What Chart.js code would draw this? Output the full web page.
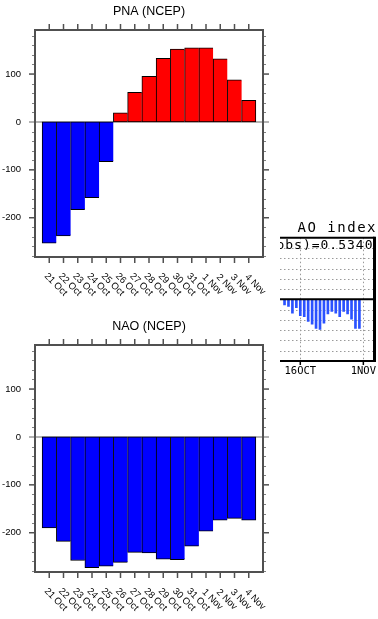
<!DOCTYPE html>
<html>
<head>
<meta charset="utf-8">
<script src="https://cdn.jsdelivr.net/npm/chart.js@4.4.0/dist/chart.umd.min.js"></script>
<style>
  html, body { margin: 0; padding: 0; background: #fff; overflow: hidden; }
  body { width: 378px; height: 619px; position: relative; }
  canvas { display: block; }
  #pna { position: absolute; left: 0; top: 0; }
  #nao { position: absolute; left: 0; top: 315px; }
  #ao { position: absolute; left: 280px; top: 212px; }
</style>
</head>
<body>
<canvas id="pna" width="280" height="312"></canvas>
<canvas id="nao" width="280" height="312"></canvas>
<canvas id="ao" width="98" height="175"></canvas>
<script>
// index values (NCEP), one bar per day
const days = ["21 Oct", "22 Oct", "23 Oct", "24 Oct", "25 Oct", "26 Oct", "27 Oct", "28 Oct",
              "29 Oct", "30 Oct", "31 Oct", "1 Nov", "2 Nov", "3 Nov", "4 Nov"];
const pnaValues = [-253, -238, -183, -158, -83, 19, 62, 95, 133, 152, 155, 155, 132, 88, 45];
const naoValues = [-190, -218, -258, -273, -270, -262, -241, -242, -255, -256, -228, -197, -174, -170, -174];
const yMajorTicks = [-200, -100, 0, 100];
const yMinorStep = 20;

// the cut-off AO panel on the right (day numbers counted from 30 Sep)
const aoDays = [12, 13, 14, 15, 16, 17, 18, 19, 20, 21, 22, 23, 24, 25, 26, 27, 28, 29, 30, 31];
const aoValues = [-0.27, -0.35, -0.67, -0.40, -0.80, -0.84, -1.08, -1.21, -1.41, -1.46,
                  -1.16, -0.71, -0.59, -0.67, -0.84, -0.59, -0.71, -0.97, -1.41, -1.41];
const aoTickDays = [16, 32];
const aoTickLabels = ["16OCT", "1NOV"];
const aoGridStep = 0.5;

const sans = "'Liberation Sans', Arial, sans-serif";
const mono = "'DejaVu Sans Mono', monospace";

function seg(ctx, x1, y1, x2, y2) {
  ctx.beginPath();
  ctx.moveTo(x1, y1);
  ctx.lineTo(x2, y2);
  ctx.stroke();
}

const ncarFrame = {
  id: 'ncarFrame',
  beforeDatasetsDraw(chart) {
    const { ctx, chartArea: a, scales: { y } } = chart;
    const y0 = y.getPixelForValue(0);
    ctx.save();
    ctx.strokeStyle = '#b4b4b4';
    ctx.lineWidth = 2;
    seg(ctx, a.left - 6, y0, a.right + 6, y0);
    ctx.restore();
  },
  afterDraw(chart) {
    const { ctx, chartArea: a, scales: { x, y } } = chart;
    ctx.save();
    // minor y ticks
    ctx.strokeStyle = '#808080';
    ctx.lineWidth = 1;
    for (let v = Math.ceil(y.min / yMinorStep) * yMinorStep; v <= y.max; v += yMinorStep) {
      if (v % 100 === 0) continue;
      const py = Math.round(y.getPixelForValue(v)) + 0.5;
      seg(ctx, a.left - 3, py, a.left, py);
      seg(ctx, a.right, py, a.right + 3, py);
    }
    // major y ticks + labels
    ctx.strokeStyle = '#505050';
    ctx.lineWidth = 1.5;
    ctx.fillStyle = '#000';
    ctx.font = '9.5px ' + sans;
    ctx.textAlign = 'right';
    ctx.textBaseline = 'middle';
    yMajorTicks.forEach(v => {
      const py = y.getPixelForValue(v);
      if (v !== 0) {
        seg(ctx, a.left - 6, py, a.left, py);
        seg(ctx, a.right, py, a.right + 6, py);
      }
      ctx.fillText(String(v), a.left - 14, py);
    });
    // x ticks top and bottom
    days.forEach((d, i) => {
      const px = x.getPixelForValue(i + 1);
      seg(ctx, px, a.top - 6, px, a.top);
      seg(ctx, px, a.bottom, px, a.bottom + 6);
    });
    // frame
    ctx.strokeStyle = '#505050';
    ctx.lineWidth = 2;
    ctx.strokeRect(a.left, a.top, a.right - a.left, a.bottom - a.top);
    // slanted day labels
    ctx.textAlign = 'center';
    days.forEach((d, i) => {
      const px = x.getPixelForValue(i + 1);
      ctx.save();
      ctx.translate(px + 6.5, a.bottom + 27.5);
      ctx.rotate(Math.PI / 4);
      ctx.fillText(d, 0, 0);
      ctx.restore();
    });
    ctx.restore();
  }
};

function makeIndexChart(canvasId, title, values) {
  const last = values.length - 1;
  return new Chart(document.getElementById(canvasId), {
    type: 'bar',
    data: {
      datasets: [{
        data: values.map((v, i) => ({ x: i + 1, y: v })),
        backgroundColor: values.map(v => (v >= 0 ? '#ff0000' : '#0000ff')),
        borderColor: '#000',
        borderWidth: c => ({ left: 1, top: 1, bottom: 1, right: c.dataIndex === last ? 1 : 0 }),
        borderSkipped: false,
        barPercentage: 1,
        categoryPercentage: 1
      }]
    },
    options: {
      responsive: false,
      animation: false,
      events: [],
      layout: { padding: { left: 35, right: 17, top: 0, bottom: 55 } },
      scales: {
        x: { type: 'linear', offset: false, min: 0, max: days.length + 1, display: false },
        y: { min: -282, max: 192, display: false }
      },
      plugins: {
        legend: { display: false },
        tooltip: { enabled: false },
        title: {
          display: true,
          text: title,
          color: '#000',
          font: { family: sans, size: 12.5, weight: 'normal' },
          padding: { top: 4, bottom: 11 }
        }
      }
    },
    plugins: [ncarFrame]
  });
}

makeIndexChart('pna', 'PNA (NCEP)', pnaValues);
makeIndexChart('nao', 'NAO (NCEP)', naoValues);

// AO panel is cropped on its left side, so no left border is drawn
const aoFrame = {
  id: 'aoFrame',
  beforeDatasetsDraw(chart) {
    const { ctx, chartArea: a, scales: { x, y } } = chart;
    ctx.save();
    ctx.strokeStyle = '#9a9a9a';
    ctx.lineWidth = 1;
    ctx.setLineDash([1.5, 2.5]);
    for (let v = y.min + aoGridStep; v < y.max; v += aoGridStep) {
      if (Math.abs(v) < 1e-6) continue;
      const py = Math.round(y.getPixelForValue(v)) + 0.5;
      seg(ctx, a.left, py, a.right, py);
    }
    aoTickDays.forEach(d => {
      const px = Math.round(x.getPixelForValue(d)) + 0.5;
      seg(ctx, px, a.top, px, a.bottom);
    });
    ctx.restore();
  },
  afterDraw(chart) {
    const { ctx, chartArea: a, scales: { x, y } } = chart;
    ctx.save();
    ctx.strokeStyle = '#000';
    ctx.lineWidth = 2;
    const y0 = y.getPixelForValue(0);
    seg(ctx, a.left, y0, a.right, y0);
    seg(ctx, a.left, a.top, a.right, a.top);
    seg(ctx, a.left, a.bottom, a.right, a.bottom);
    ctx.lineWidth = 3;
    seg(ctx, a.right, a.top - 1, a.right, a.bottom + 1);
    ctx.lineWidth = 1.5;
    ctx.fillStyle = '#000';
    ctx.font = '10.5px ' + mono;
    ctx.textAlign = 'center';
    ctx.textBaseline = 'middle';
    aoTickDays.forEach((d, i) => {
      const px = x.getPixelForValue(d);
      seg(ctx, px, a.bottom, px, a.bottom + 4);
      ctx.fillText(aoTickLabels[i], px, a.bottom + 10);
    });
    ctx.textAlign = 'right';
    ctx.font = '14px ' + mono;
    ctx.letterSpacing = '1.5px';
    ctx.fillText('AO index', a.right + 2.5, a.top - 9);
    ctx.letterSpacing = '1px';
    ctx.font = '13px ' + mono;
    ctx.fillText('r(obs)=0.5340', a.right - 1, a.top + 8);
    ctx.restore();
  }
};

new Chart(document.getElementById('ao'), {
  type: 'bar',
  data: {
    datasets: [{
      data: aoDays.map((d, i) => ({ x: d, y: aoValues[i] })),
      backgroundColor: '#2a52ff',
      borderWidth: 0,
      barThickness: 2
    }]
  },
  options: {
    responsive: false,
    animation: false,
    events: [],
    layout: { padding: { left: 0, right: 3.5, top: 25.7, bottom: 26 } },
    scales: {
      x: { type: 'linear', offset: false, min: 10.85, max: 34.83, display: false },
      y: { min: -3, max: 3, display: false }
    },
    plugins: { legend: { display: false }, tooltip: { enabled: false } }
  },
  plugins: [aoFrame]
});
</script>
</body>
</html>
